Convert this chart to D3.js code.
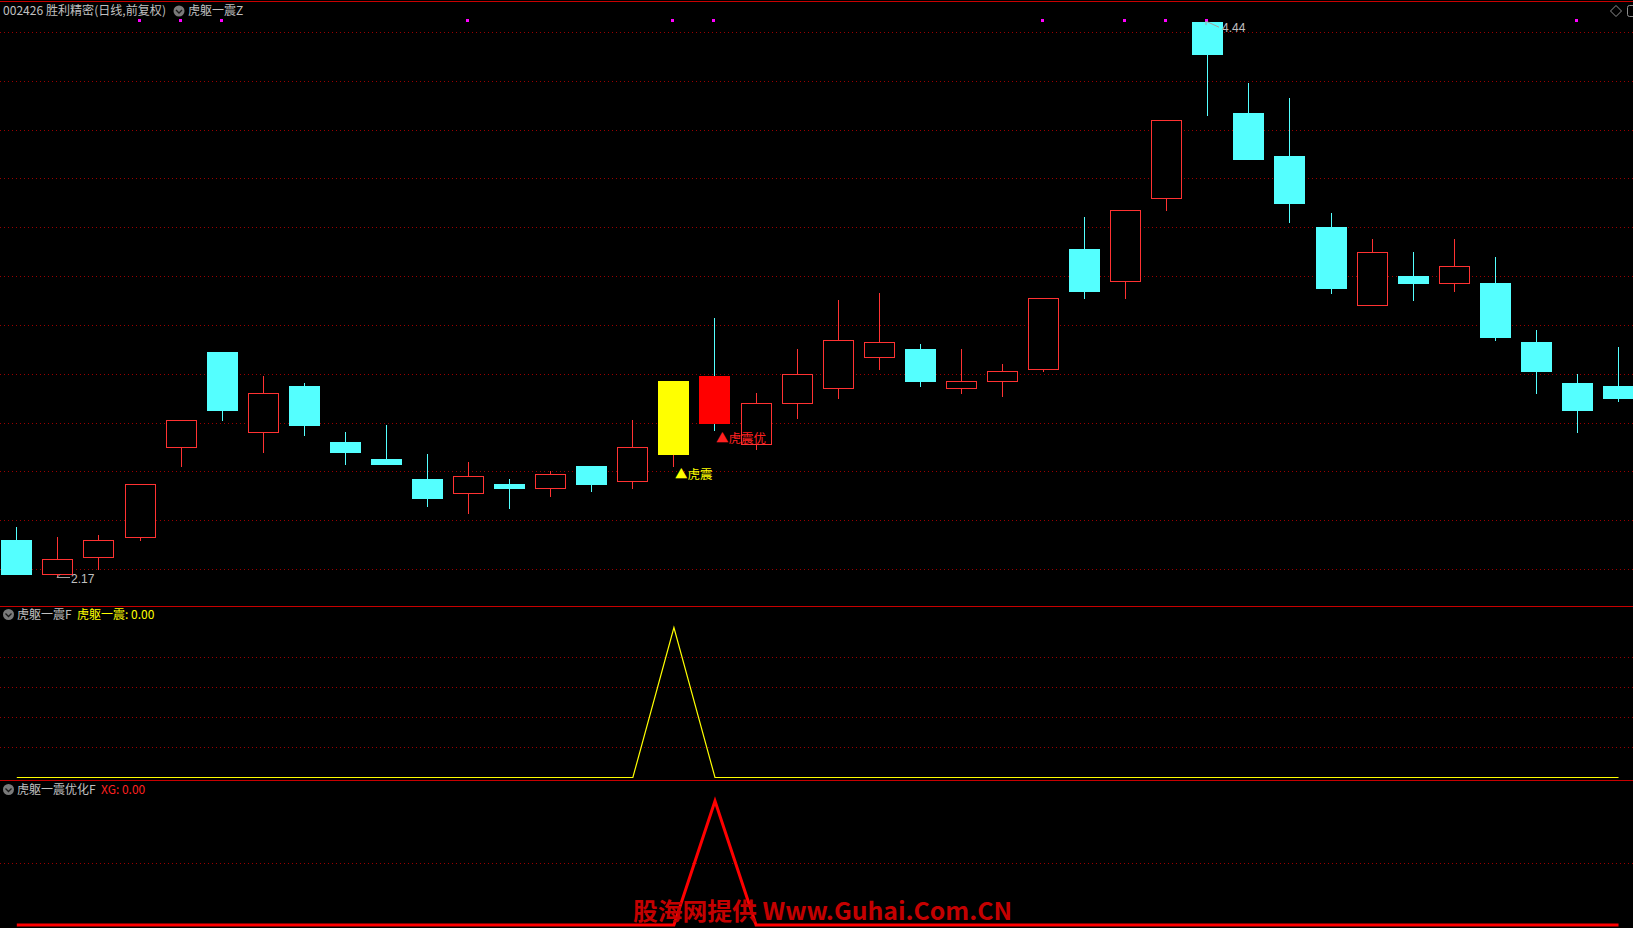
<!DOCTYPE html>
<html><head><meta charset="utf-8">
<script src="https://cdn.jsdelivr.net/npm/d3@7"></script>
<style>html,body{margin:0;padding:0;background:#000;overflow:hidden}svg{display:block}</style>
</head><body>
<svg id="c" width="1633" height="928"></svg>
<script>
// ---- data ----
const opens  = [2.32,2.18,2.25,2.33,2.70,3.09,2.76,2.95,2.72,2.65,2.57,2.51,2.55,2.53,2.62,2.56,2.67,2.99,2.71,2.88,2.94,3.07,3.10,2.94,2.97,3.02,3.51,3.38,3.72,4.44,4.07,3.89,3.60,3.28,3.40,3.37,3.37,3.13,2.96,2.95];
const highs  = [2.37,2.33,2.34,2.55,2.81,3.09,2.99,2.96,2.76,2.79,2.67,2.64,2.57,2.60,2.62,2.81,2.97,3.23,2.92,3.10,3.30,3.33,3.12,3.10,3.04,3.31,3.64,3.67,4.04,4.44,4.19,4.13,3.66,3.55,3.50,3.55,3.48,3.18,3.00,3.11];
const lows   = [2.18,2.17,2.20,2.32,2.62,2.81,2.68,2.75,2.63,2.63,2.46,2.43,2.45,2.50,2.52,2.53,2.62,2.77,2.69,2.82,2.90,3.02,2.95,2.92,2.91,3.01,3.31,3.31,3.67,4.06,3.88,3.62,3.33,3.28,3.30,3.34,3.14,2.92,2.76,2.89];
const closes = [2.18,2.24,2.32,2.55,2.81,2.85,2.92,2.79,2.68,2.63,2.49,2.58,2.53,2.59,2.55,2.70,2.97,2.80,2.88,3.00,3.14,3.13,2.97,2.97,3.01,3.31,3.34,3.67,4.04,4.31,3.88,3.70,3.35,3.50,3.37,3.44,3.15,3.01,2.85,2.90];
const hzSignal = [0,0,0,0,0,0,0,0,0,0,0,0,0,0,0,0,1,0,0,0,0,0,0,0,0,0,0,0,0,0,0,0,0,0,0,0,0,0,0,0];
const xgSignal = [0,0,0,0,0,0,0,0,0,0,0,0,0,0,0,0,0,1,0,0,0,0,0,0,0,0,0,0,0,0,0,0,0,0,0,0,0,0,0,0];
const topMarks = [3,4,5,11,16,17,25,27,28,29,38];
const mainGrid = [4.4,4.2,4.0,3.8,3.6,3.4,3.2,3.0,2.8,2.6,2.4,2.2];
const sub1Grid = [0.2,0.4,0.6,0.8];
const sub2Grid = [0.5];
const titleMain = "002426 胜利精密(日线,前复权)";
const titleInd = "虎躯一震Z";
const sub1Title = "虎躯一震F", sub1Val = "虎躯一震: 0.00";
const sub2Title = "虎躯一震优化F", sub2Val = "XG: 0.00";
const hzLabel = "▲虎震", xgLabel = "▲虎震优";
const watermark = "股海网提供 Www.Guhai.Com.CN";

// ---- setup ----
const W = 1633, H = 928;
const svg = d3.select("#c");
const FONT = "'Noto Sans CJK SC','Liberation Sans',sans-serif";
const CYAN = "#54ffff", RED = "#ff3232", GRID = "#9a0000", SEP = "#c80000", GRAY = "#c0c0c0";
const n = opens.length;
const idx = d3.range(n);
const x = d3.scaleLinear().domain([0, n - 1]).range([16.8, 16.8 + 39 * 41.07]);
const xc = i => Math.floor(x(i));
const yMain = d3.scaleLinear().domain([2.17, 4.44]).range([576.3, 22.2]);
const ySub1 = d3.scaleLinear().domain([0, 1]).range([777, 627]);
const ySub2 = d3.scaleLinear().domain([0, 1]).range([925, 801]);
const half = 15;

svg.append("rect").attr("width", W).attr("height", H).attr("fill", "#000");

// separators
svg.append("line").attr("x1", 0).attr("x2", W).attr("y1", 1.5).attr("y2", 1.5).attr("stroke", SEP);
[606.5, 780.5].forEach(y => svg.append("line").attr("x1", 0).attr("x2", W).attr("y1", y).attr("y2", y).attr("stroke", SEP));

// grids
function grid(vals, scale) {
  svg.append("g").selectAll("line").data(vals).join("line")
    .attr("x1", 0).attr("x2", W)
    .attr("y1", d => Math.round(scale(d)) + 0.5).attr("y2", d => Math.round(scale(d)) + 0.5)
    .attr("stroke", GRID).attr("stroke-dasharray", "1,3");
}
grid(mainGrid, yMain); grid(sub1Grid, ySub1); grid(sub2Grid, ySub2);

// candles
const g = svg.append("g");
idx.forEach(i => {
  const up = closes[i] >= opens[i];
  const c = xc(i) + 0.5;
  const wickCol = up ? RED : CYAN;
  g.append("line").attr("x1", c).attr("x2", c)
    .attr("y1", Math.round(yMain(highs[i]))).attr("y2", Math.round(yMain(lows[i])) + 1)
    .attr("stroke", wickCol);
  const yt = Math.round(yMain(Math.max(opens[i], closes[i])));
  const yb = Math.round(yMain(Math.min(opens[i], closes[i])));
  const bh = Math.max(1, yb - yt);
  if (hzSignal[i]) {
    g.append("rect").attr("x", xc(i) - half).attr("y", yt).attr("width", 2 * half + 1).attr("height", bh + 1).attr("fill", "#ffff00");
  } else if (xgSignal[i]) {
    g.append("rect").attr("x", xc(i) - half).attr("y", yt).attr("width", 2 * half + 1).attr("height", bh + 1).attr("fill", "#ff0000");
  } else if (up) {
    g.append("rect").attr("x", xc(i) - half + 0.5).attr("y", yt + 0.5).attr("width", 2 * half).attr("height", bh)
      .attr("fill", "#000").attr("stroke", RED);
  } else {
    g.append("rect").attr("x", xc(i) - half).attr("y", yt).attr("width", 2 * half + 1).attr("height", bh + 1).attr("fill", CYAN);
  }
});

// top magenta marks
svg.append("g").selectAll("rect").data(topMarks).join("rect")
  .attr("x", d => xc(d) - 2).attr("y", 19).attr("width", 3).attr("height", 3).attr("fill", "#ff00ff");

// signal labels
idx.forEach(i => {
  if (hzSignal[i]) svg.append("text").attr("x", xc(i) + 2).attr("y", Math.round(yMain(lows[i])) + 13)
    .attr("fill", "#ffff00").attr("font-size", 12.5).attr("font-family", FONT).text(hzLabel);
  if (xgSignal[i]) svg.append("text").attr("x", xc(i) + 2).attr("y", Math.round(yMain(lows[i])) + 13)
    .attr("fill", "#ff2020").attr("font-size", 12.5).attr("font-family", FONT).text(xgLabel);
});

// max / min labels
const iMax = d3.maxIndex(highs), iMin = d3.minIndex(lows);
{
  const cx = xc(iMax), cy = yMain(highs[iMax]);
  svg.append("path").attr("d", `M${cx - 1},${cy - 1}L${cx + 12},${cy + 5}M${cx - 1},${cy - 1}L${cx - 1},${cy + 3}`)
    .attr("stroke", "#a0a0a0").attr("fill", "none");
  svg.append("text").attr("x", cx + 15).attr("y", cy + 10).attr("fill", GRAY).attr("font-size", 12)
    .attr("font-family", "'Liberation Sans',sans-serif").text(d3.format(".2f")(highs[iMax]));
}
{
  const cx = xc(iMin), cy = Math.round(yMain(lows[iMin]));
  svg.append("path").attr("d", `M${cx},${cy + 1.5}L${cx + 13},${cy + 1.5}M${cx},${cy + 1.5}L${cx + 3},${cy - 1.5}`)
    .attr("stroke", "#a0a0a0").attr("fill", "none");
  svg.append("text").attr("x", cx + 14).attr("y", cy + 7).attr("fill", GRAY).attr("font-size", 12)
    .attr("font-family", "'Liberation Sans',sans-serif").text(d3.format(".2f")(lows[iMin]));
}

// sub lines
svg.append("path").datum(hzSignal)
  .attr("d", d3.line().x((d, i) => x(i)).y(d => ySub1(d) + 0.5))
  .attr("fill", "none").attr("stroke", "#ffff00").attr("stroke-width", 1.2);
svg.append("path").datum(xgSignal)
  .attr("d", d3.line().x((d, i) => x(i)).y(d => ySub2(d)))
  .attr("fill", "none").attr("stroke", "#ff0000").attr("stroke-width", 3);

// titles
function icon(cx, cy) {
  svg.append("circle").attr("cx", cx).attr("cy", cy).attr("r", 5.5).attr("fill", "#7a7a7a");
  svg.append("path").attr("d", `M${cx - 3},${cy - 1}L${cx},${cy + 2}L${cx + 3},${cy - 1}`)
    .attr("stroke", "#1a1a1a").attr("stroke-width", 1.3).attr("fill", "none");
}
function txt(xp, yp, s, col) {
  return svg.append("text").attr("x", xp).attr("y", yp).attr("fill", col).attr("font-size", 12)
    .attr("font-family", FONT).text(s);
}
txt(3, 15, titleMain, GRAY).attr("textLength", 163).attr("lengthAdjust", "spacingAndGlyphs");
icon(179, 11);
txt(188, 15, titleInd, GRAY);
icon(8.5, 614.5);
txt(17, 619, sub1Title, GRAY);
txt(77, 619, sub1Val, "#ffff00");
icon(8.5, 789.5);
txt(17, 794, sub2Title, GRAY);
txt(101, 794, sub2Val, "#ff2020");

// top-right icons
svg.append("path").attr("d", "M1616,5.5L1621.5,11L1616,16.5L1610.5,11Z").attr("fill", "none").attr("stroke", "#909090");
svg.append("rect").attr("x", 1627.5).attr("y", 5.5).attr("width", 8).attr("height", 11).attr("rx", 2)
  .attr("fill", "none").attr("stroke", "#909090");

// watermark
svg.append("text").attr("x", 633).attr("y", 920).attr("fill", "#c40000").attr("font-size", 24)
  .attr("font-weight", 700).attr("font-family", FONT)
  .attr("textLength", 379).attr("lengthAdjust", "spacingAndGlyphs").text(watermark);
</script>
</body></html>
